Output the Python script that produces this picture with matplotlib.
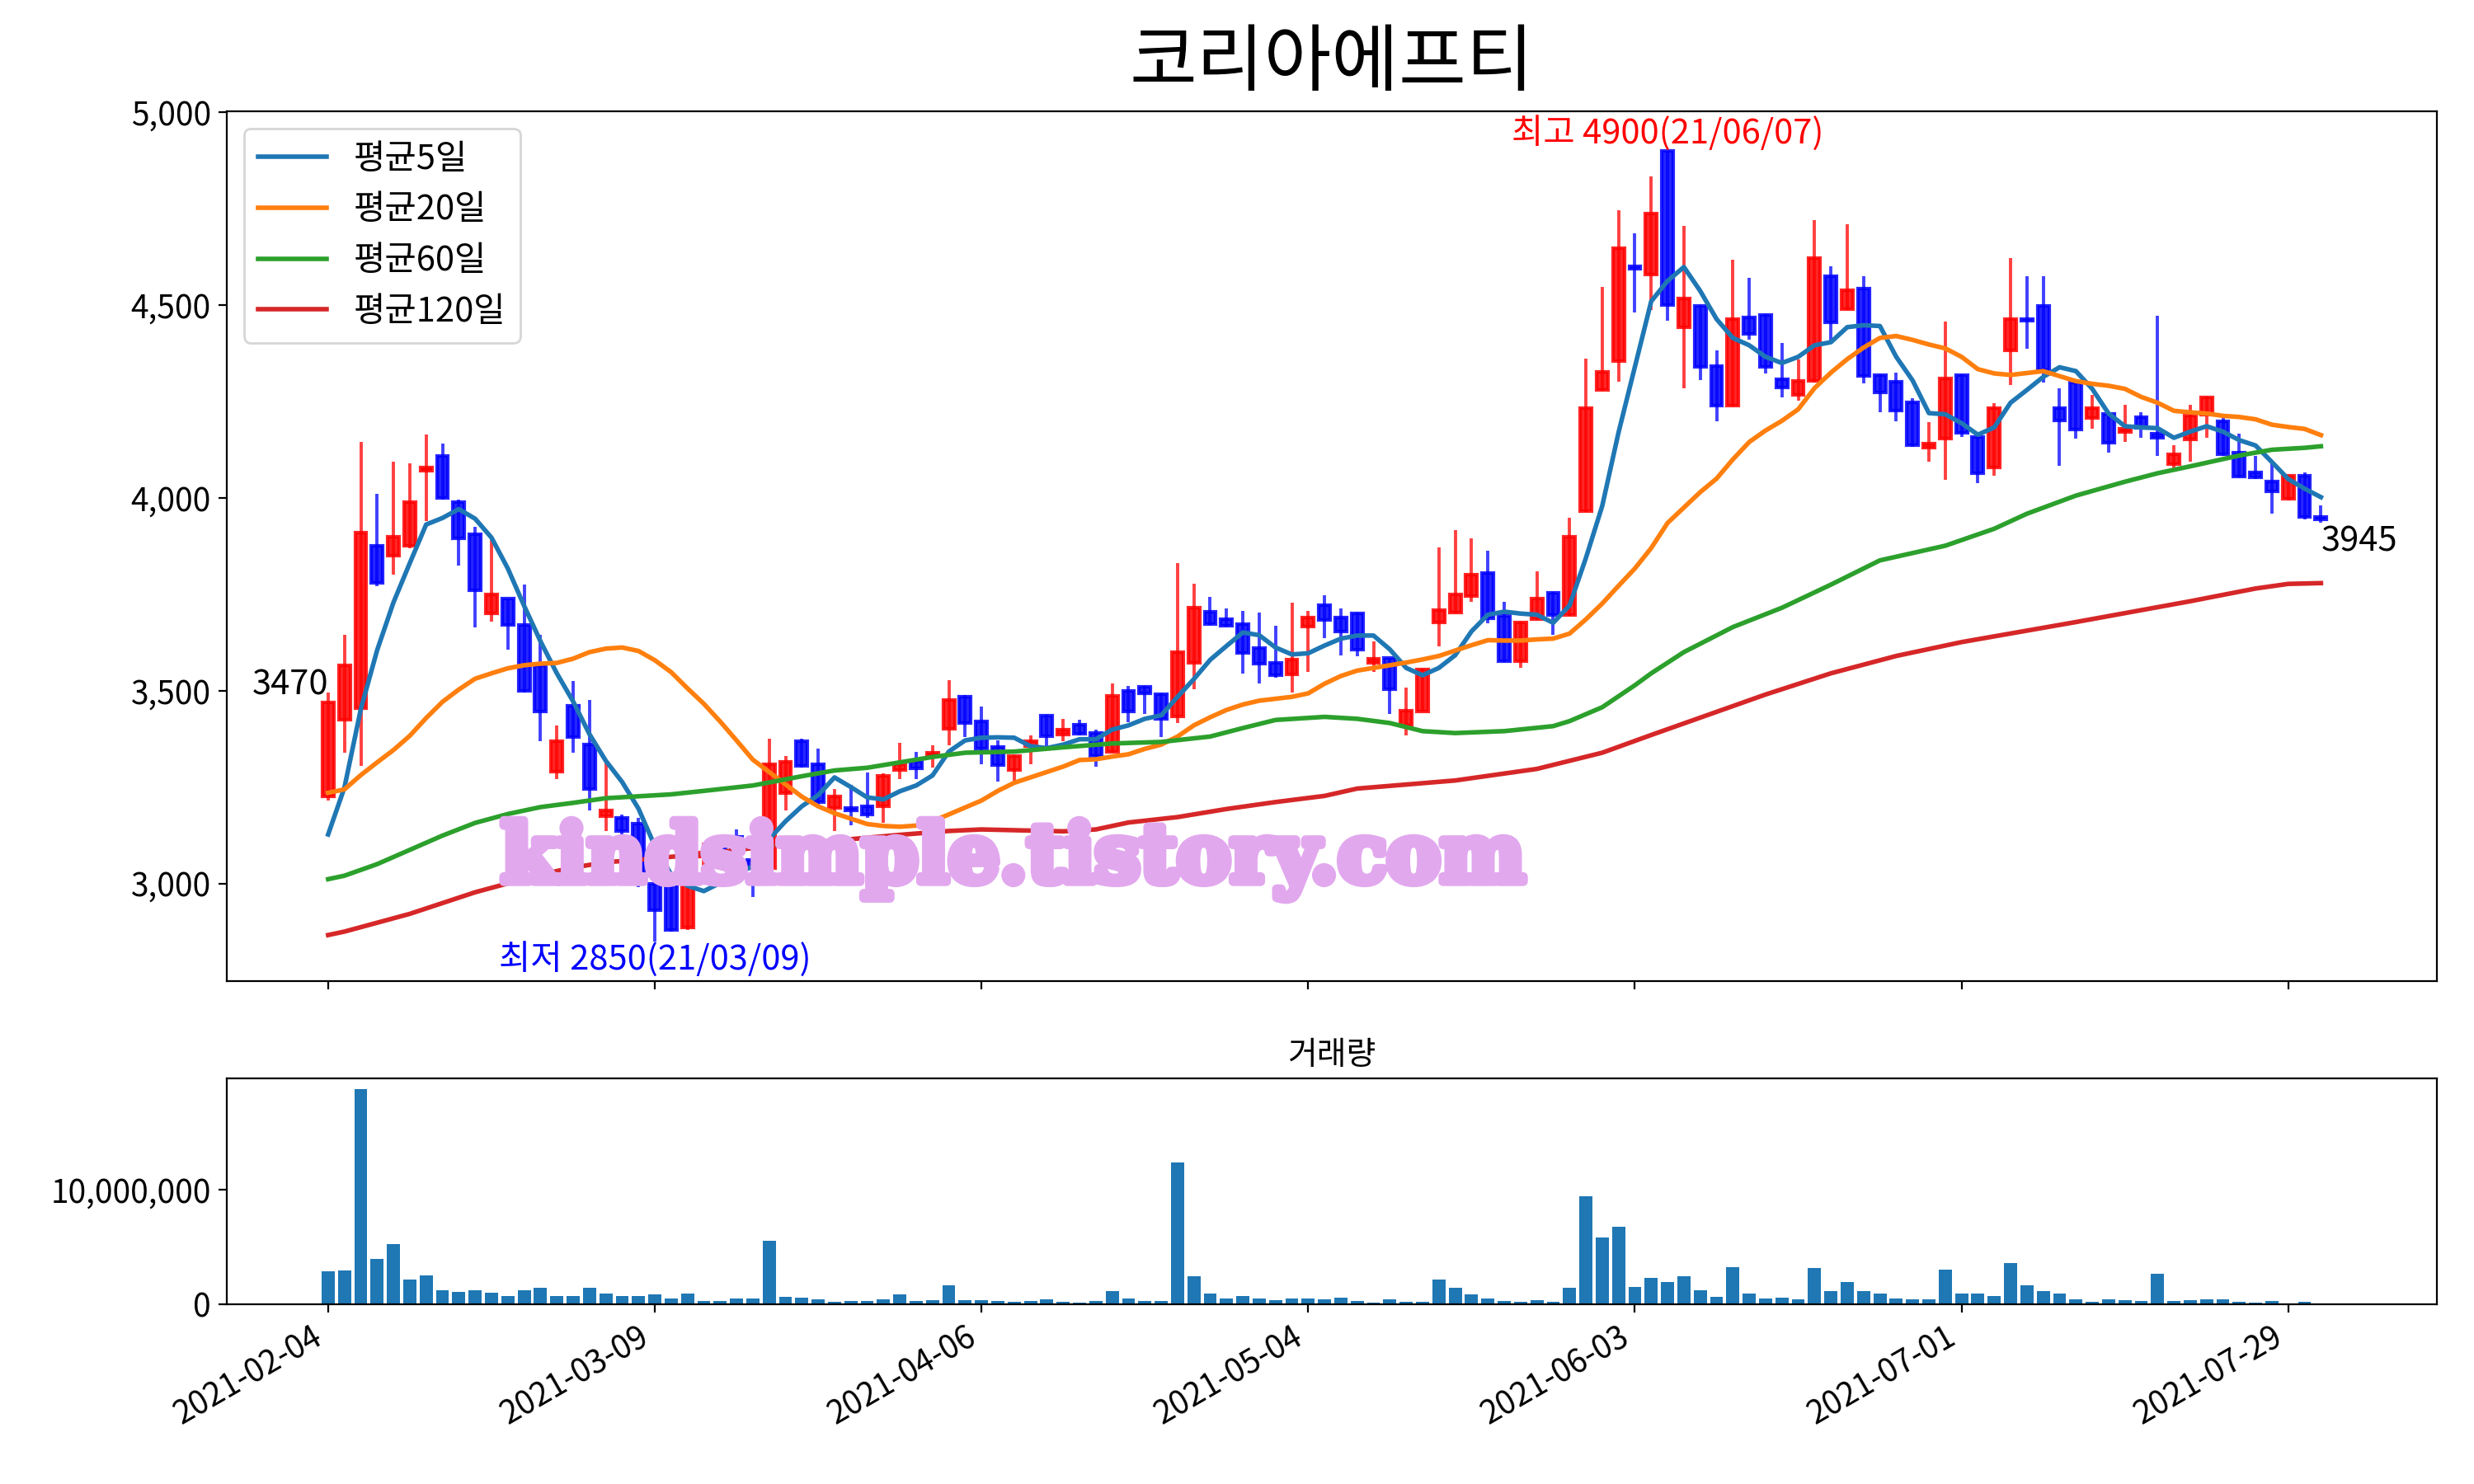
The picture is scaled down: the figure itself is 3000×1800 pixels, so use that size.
import matplotlib
matplotlib.use("Agg")
import matplotlib.pyplot as plt
import matplotlib.patheffects as pe
from matplotlib.ticker import FuncFormatter

plt.rcParams['font.family'] = ['Noto Sans CJK KR', 'DejaVu Sans']
plt.rcParams['axes.unicode_minus'] = False
plt.rcParams['font.size'] = 14

title = "코리아에프티"
tick_pos = [0, 20, 40, 60, 80, 100, 120]
tick_dates = ["2021-02-04", "2021-03-09", "2021-04-06", "2021-05-04",
              "2021-06-03", "2021-07-01", "2021-07-29"]

# daily candles
opens = [3225, 3425, 3455, 3875, 3850, 3875, 4070, 4110, 3990, 3905,
         3700, 3740, 3670, 3565, 3290, 3460, 3360, 3175, 3170, 3155,
         3000, 3000, 2885, 3070, 3115, 3120, 3060, 3040, 3235, 3370,
         3310, 3195, 3195, 3200, 3200, 3295, 3318, 3332, 3400, 3485,
         3420, 3353, 3295, 3357, 3435, 3387, 3412, 3390, 3342, 3500,
         3510, 3490, 3433, 3573, 3704, 3685, 3672, 3610, 3572, 3542,
         3667, 3721, 3689, 3700, 3573, 3584, 3409, 3447, 3676, 3703,
         3746, 3805, 3695, 3576, 3685, 3754, 3697, 3965, 4281, 4356,
         4600, 4580, 4900, 4442, 4499, 4343, 4240, 4468, 4474, 4307,
         4267, 4303, 4575, 4490, 4544, 4318, 4301, 4249, 4131, 4153,
         4318, 4159, 4078, 4382, 4465, 4499, 4233, 4300, 4208, 4219,
         4170, 4209, 4166, 4087, 4152, 4215, 4199, 4118, 4067, 4042,
         3997, 4058, 3950]
highs = [3495, 3645, 4145, 4010, 4095, 4090, 4165, 4140, 3995, 3925,
         3890, 3740, 3775, 3645, 3410, 3525, 3475, 3315, 3178, 3170,
         3005, 3005, 3010, 3105, 3125, 3140, 3080, 3375, 3330, 3375,
         3350, 3245, 3255, 3287, 3285, 3365, 3342, 3358, 3528, 3488,
         3458, 3371, 3332, 3383, 3437, 3427, 3424, 3398, 3518, 3513,
         3512, 3492, 3832, 3777, 3743, 3713, 3706, 3702, 3669, 3728,
         3707, 3747, 3713, 3702, 3628, 3586, 3509, 3558, 3872, 3917,
         3896, 3862, 3731, 3680, 3810, 3757, 3948, 4361, 4547, 4746,
         4686, 4835, 4900, 4706, 4500, 4382, 4617, 4572, 4476, 4401,
         4360, 4721, 4601, 4710, 4576, 4320, 4325, 4259, 4197, 4457,
         4320, 4160, 4245, 4622, 4575, 4575, 4285, 4302, 4267, 4220,
         4242, 4222, 4472, 4137, 4242, 4262, 4208, 4166, 4110, 4092,
         4060, 4066, 3980]
lows = [3215, 3340, 3305, 3770, 3800, 3870, 3940, 3995, 3825, 3665,
        3680, 3607, 3495, 3370, 3270, 3340, 3190, 3135, 3120, 2990,
        2850, 2875, 2880, 3045, 3060, 3070, 2965, 3035, 3190, 3300,
        3200, 3135, 3150, 3170, 3158, 3270, 3270, 3300, 3358, 3380,
        3310, 3265, 3260, 3310, 3356, 3369, 3385, 3303, 3340, 3419,
        3440, 3380, 3415, 3504, 3670, 3667, 3545, 3518, 3534, 3495,
        3548, 3637, 3592, 3590, 3548, 3440, 3385, 3445, 3614, 3700,
        3731, 3674, 3575, 3559, 3683, 3645, 3695, 3963, 4278, 4302,
        4482, 4487, 4460, 4284, 4306, 4198, 4238, 4410, 4322, 4261,
        4253, 4300, 4407, 4488, 4297, 4223, 4198, 4133, 4093, 4048,
        4158, 4038, 4058, 4292, 4388, 4299, 4083, 4154, 4179, 4118,
        4146, 4157, 4109, 4075, 4094, 4157, 4110, 4054, 4050, 3959,
        3993, 3945, 3935]
closes = [3470, 3565, 3910, 3780, 3900, 3990, 4080, 4000, 3895, 3760,
          3750, 3670, 3500, 3445, 3370, 3380, 3245, 3190, 3135, 3000,
          2930, 2880, 3000, 3080, 3070, 3080, 3040, 3310, 3315, 3305,
          3210, 3225, 3190, 3178, 3280, 3310, 3298, 3340, 3475, 3417,
          3350, 3308, 3330, 3370, 3381, 3399, 3388, 3330, 3486, 3447,
          3493, 3427, 3600, 3716, 3672, 3669, 3598, 3570, 3541, 3580,
          3690, 3683, 3654, 3607, 3583, 3503, 3449, 3556, 3710, 3749,
          3800, 3688, 3576, 3678, 3738, 3697, 3899, 4232, 4328, 4648,
          4595, 4738, 4500, 4518, 4341, 4240, 4463, 4425, 4341, 4286,
          4303, 4623, 4455, 4538, 4316, 4274, 4227, 4136, 4140, 4309,
          4168, 4065, 4233, 4463, 4460, 4332, 4200, 4177, 4234, 4144,
          4180, 4181, 4157, 4114, 4213, 4260, 4113, 4056, 4053, 4018,
          4058, 3950, 3945]
volumes = [2.85, 2.92, 18.73, 3.93, 5.22, 2.13, 2.49, 1.20, 1.05, 1.20,
           0.98, 0.69, 1.20, 1.41, 0.69, 0.69, 1.41, 0.91, 0.69, 0.69,
           0.84, 0.48, 0.91, 0.26, 0.26, 0.48, 0.48, 5.51, 0.62, 0.55,
           0.41, 0.19, 0.26, 0.26, 0.41, 0.84, 0.26, 0.34, 1.63, 0.34,
           0.34, 0.26, 0.19, 0.26, 0.41, 0.19, 0.12, 0.26, 1.13, 0.48,
           0.26, 0.26, 12.33, 2.42, 0.91, 0.48, 0.69, 0.48, 0.34, 0.48,
           0.48, 0.41, 0.55, 0.26, 0.12, 0.41, 0.19, 0.19, 2.13, 1.41,
           0.84, 0.48, 0.26, 0.19, 0.34, 0.19, 1.41, 9.39, 5.80, 6.73,
           1.48, 2.27, 1.92, 2.42, 1.20, 0.62, 3.21, 0.91, 0.48, 0.55,
           0.41, 3.14, 1.13, 1.92, 1.13, 0.91, 0.48, 0.41, 0.41, 2.99,
           0.91, 0.91, 0.69, 3.57, 1.63, 1.13, 0.91, 0.41, 0.19, 0.41,
           0.34, 0.26, 2.63, 0.26, 0.34, 0.41, 0.41, 0.19, 0.12, 0.26,
           0.05, 0.19, 0.05]  # millions of shares

# moving averages as drawn (index, value)
ma5 = [3127, 3249, 3452, 3605, 3729, 3831, 3931, 3948, 3971, 3946,
       3897, 3817, 3720, 3628, 3545, 3472, 3387, 3318, 3263, 3194,
       3097, 3023, 2994, 2980, 3001, 3026, 3044, 3115, 3161, 3200,
       3229, 3275, 3250, 3223, 3218, 3239, 3254, 3280, 3342, 3371,
       3378, 3379, 3378, 3356, 3351, 3360, 3374, 3374, 3399, 3410,
       3427, 3436, 3484, 3530, 3580, 3616, 3651, 3644, 3612, 3594,
       3597, 3617, 3635, 3643, 3643, 3607, 3559, 3540, 3559, 3592,
       3654, 3697, 3705, 3700, 3697, 3676, 3721, 3844, 3979, 4170,
       4340, 4510, 4563, 4599, 4537, 4464, 4415, 4396, 4366, 4350,
       4366, 4396, 4404, 4443, 4448, 4446, 4366, 4305, 4220, 4217,
       4194, 4164, 4183, 4247, 4280, 4314, 4339, 4329, 4283, 4219,
       4186, 4183, 4181, 4156, 4172, 4186, 4172, 4150, 4136, 4093,
       4049, 4024, 4002]
ma20 = [3235, 3244, 3281, 3314, 3346, 3383, 3429, 3471, 3503, 3531,
        3545, 3558, 3566, 3570, 3572, 3583, 3600, 3609, 3612, 3603,
        3579, 3548, 3506, 3466, 3420, 3371, 3321, 3289, 3257, 3225,
        3200, 3182, 3168, 3154, 3149, 3147, 3150, 3161, 3179, 3197,
        3215, 3240, 3261, 3275, 3289, 3303, 3320, 3322, 3329, 3335,
        3349, 3360, 3381, 3410, 3431, 3450, 3464, 3474, 3479, 3484,
        3493, 3518, 3538, 3552, 3559, 3566, 3573, 3581, 3590, 3604,
        3618, 3631, 3630, 3630, 3633, 3635, 3648, 3685, 3726, 3772,
        3817, 3870, 3935, 3975, 4015, 4050, 4100, 4145, 4175, 4200,
        4230, 4285, 4325, 4360, 4390, 4415, 4420, 4410, 4398, 4388,
        4366, 4334, 4323, 4319, 4324, 4329, 4316, 4303, 4296, 4291,
        4283, 4262, 4247, 4226, 4222, 4219, 4213, 4210, 4204, 4190,
        4184, 4179, 4163]
ma60_x = [0, 1, 3, 5, 7, 9, 11, 13, 15, 17, 19, 21, 23, 26, 29, 31, 33,
          35, 37, 39, 42, 45, 48, 51, 54, 56, 58, 61, 63, 65, 67, 69, 72,
          75, 76, 78, 80, 81, 83, 86, 89, 92, 95, 99, 102, 104, 107, 110,
          112, 114, 117, 119, 121, 122]
ma60 = [3011, 3020, 3050, 3087, 3124, 3157, 3180, 3198, 3209, 3221, 3226,
        3231, 3240, 3254, 3278, 3293, 3300, 3314, 3328, 3339, 3342, 3353,
        3363, 3367, 3381, 3403, 3424, 3432, 3427, 3416, 3395, 3390, 3395,
        3408, 3421, 3457, 3514, 3545, 3600, 3665, 3715, 3775, 3838, 3876,
        3920, 3959, 4006, 4042, 4064, 4082, 4110, 4125, 4130, 4134]
ma120_x = [0, 1, 3, 5, 7, 9, 11, 13, 15, 17, 19, 21, 23, 27, 31, 35, 38,
           40, 42, 45, 47, 49, 52, 55, 58, 61, 63, 69, 74, 78, 81, 84, 88,
           92, 96, 100, 107, 114, 118, 120, 122]
ma120 = [2866, 2875, 2898, 2921, 2949, 2977, 3000, 3023, 3041, 3055, 3061,
         3069, 3076, 3097, 3111, 3126, 3136, 3140, 3138, 3135, 3140, 3158,
         3172, 3193, 3211, 3227, 3246, 3267, 3297, 3339, 3385, 3430, 3490,
         3545, 3590, 3626, 3678, 3732, 3765, 3777, 3779]

x = list(range(len(closes)))
colors = ['red' if c >= o else 'blue' for o, c in zip(opens, closes)]

fig = plt.figure(figsize=(15, 9), dpi=200)
ax = fig.add_axes([0.0917, 0.339, 0.8933, 0.586])
vax = fig.add_axes([0.0917, 0.1211, 0.8933, 0.1522], sharex=ax)

# candles
ax.vlines(x, lows, highs, colors=colors, linewidth=1.4, alpha=0.75)
ax.bar(x, [c - o for o, c in zip(opens, closes)], bottom=opens, width=0.7,
       color=colors, edgecolor=colors, linewidth=1.5, alpha=0.85)

# moving averages
ax.plot(x, ma5, color='C0', lw=2, label='평균5일')
ax.plot(x, ma20, color='C1', lw=2, label='평균20일')
ax.plot(ma60_x, ma60, color='C2', lw=2, label='평균60일')
ax.plot(ma120_x, ma120, color='C3', lw=2, label='평균120일')
ax.legend(loc='upper left', fontsize=15)

# annotations
ax.text(82, max(highs), "최고 4900(21/06/07)", color='red', ha='center', va='bottom', fontsize=15)
ax.text(20, min(lows), "최저 2850(21/03/09)", color='blue', ha='center', va='top', fontsize=15)
ax.text(0, closes[0], str(closes[0]), ha='right', va='bottom', fontsize=15)
ax.text(x[-1], closes[-1] - 15, str(closes[-1]), ha='left', va='top', fontsize=15)

ax.text(0.356, 0.139, "kindsimple.tistory.com", transform=ax.transAxes,
        ha='center', va='center', fontsize=35, fontweight='bold',
        family='DejaVu Serif', color='#e2a8ee', zorder=10,
        path_effects=[pe.withStroke(linewidth=4, foreground='#e2a8ee')])

ax.set_xlim(-6.2, 129.1)
ax.set_ylim(2747, 5003)
ax.set_yticks([3000, 3500, 4000, 4500, 5000])
ax.yaxis.set_major_formatter(FuncFormatter(lambda v, p: f"{v:,.0f}"))
ax.set_xticks(tick_pos)
plt.setp(ax.get_xticklabels(), visible=False)

fig.text(0.5383, 0.957, title, ha='center', va='center', fontsize=32)

# volume
vol = [v * 1e6 for v in volumes]
vax.bar(x, vol, width=0.8, color='C0')
vax.set_ylim(0, max(vol) * 1.05)
vax.set_yticks([0, 10000000])
vax.yaxis.set_major_formatter(FuncFormatter(lambda v, p: f"{v:,.0f}"))
vax.set_title('거래량', fontsize=14)
vax.set_xticks(tick_pos)
vax.set_xticklabels(tick_dates, rotation=30, ha='right')

fig.savefig('out.png', dpi=200)
